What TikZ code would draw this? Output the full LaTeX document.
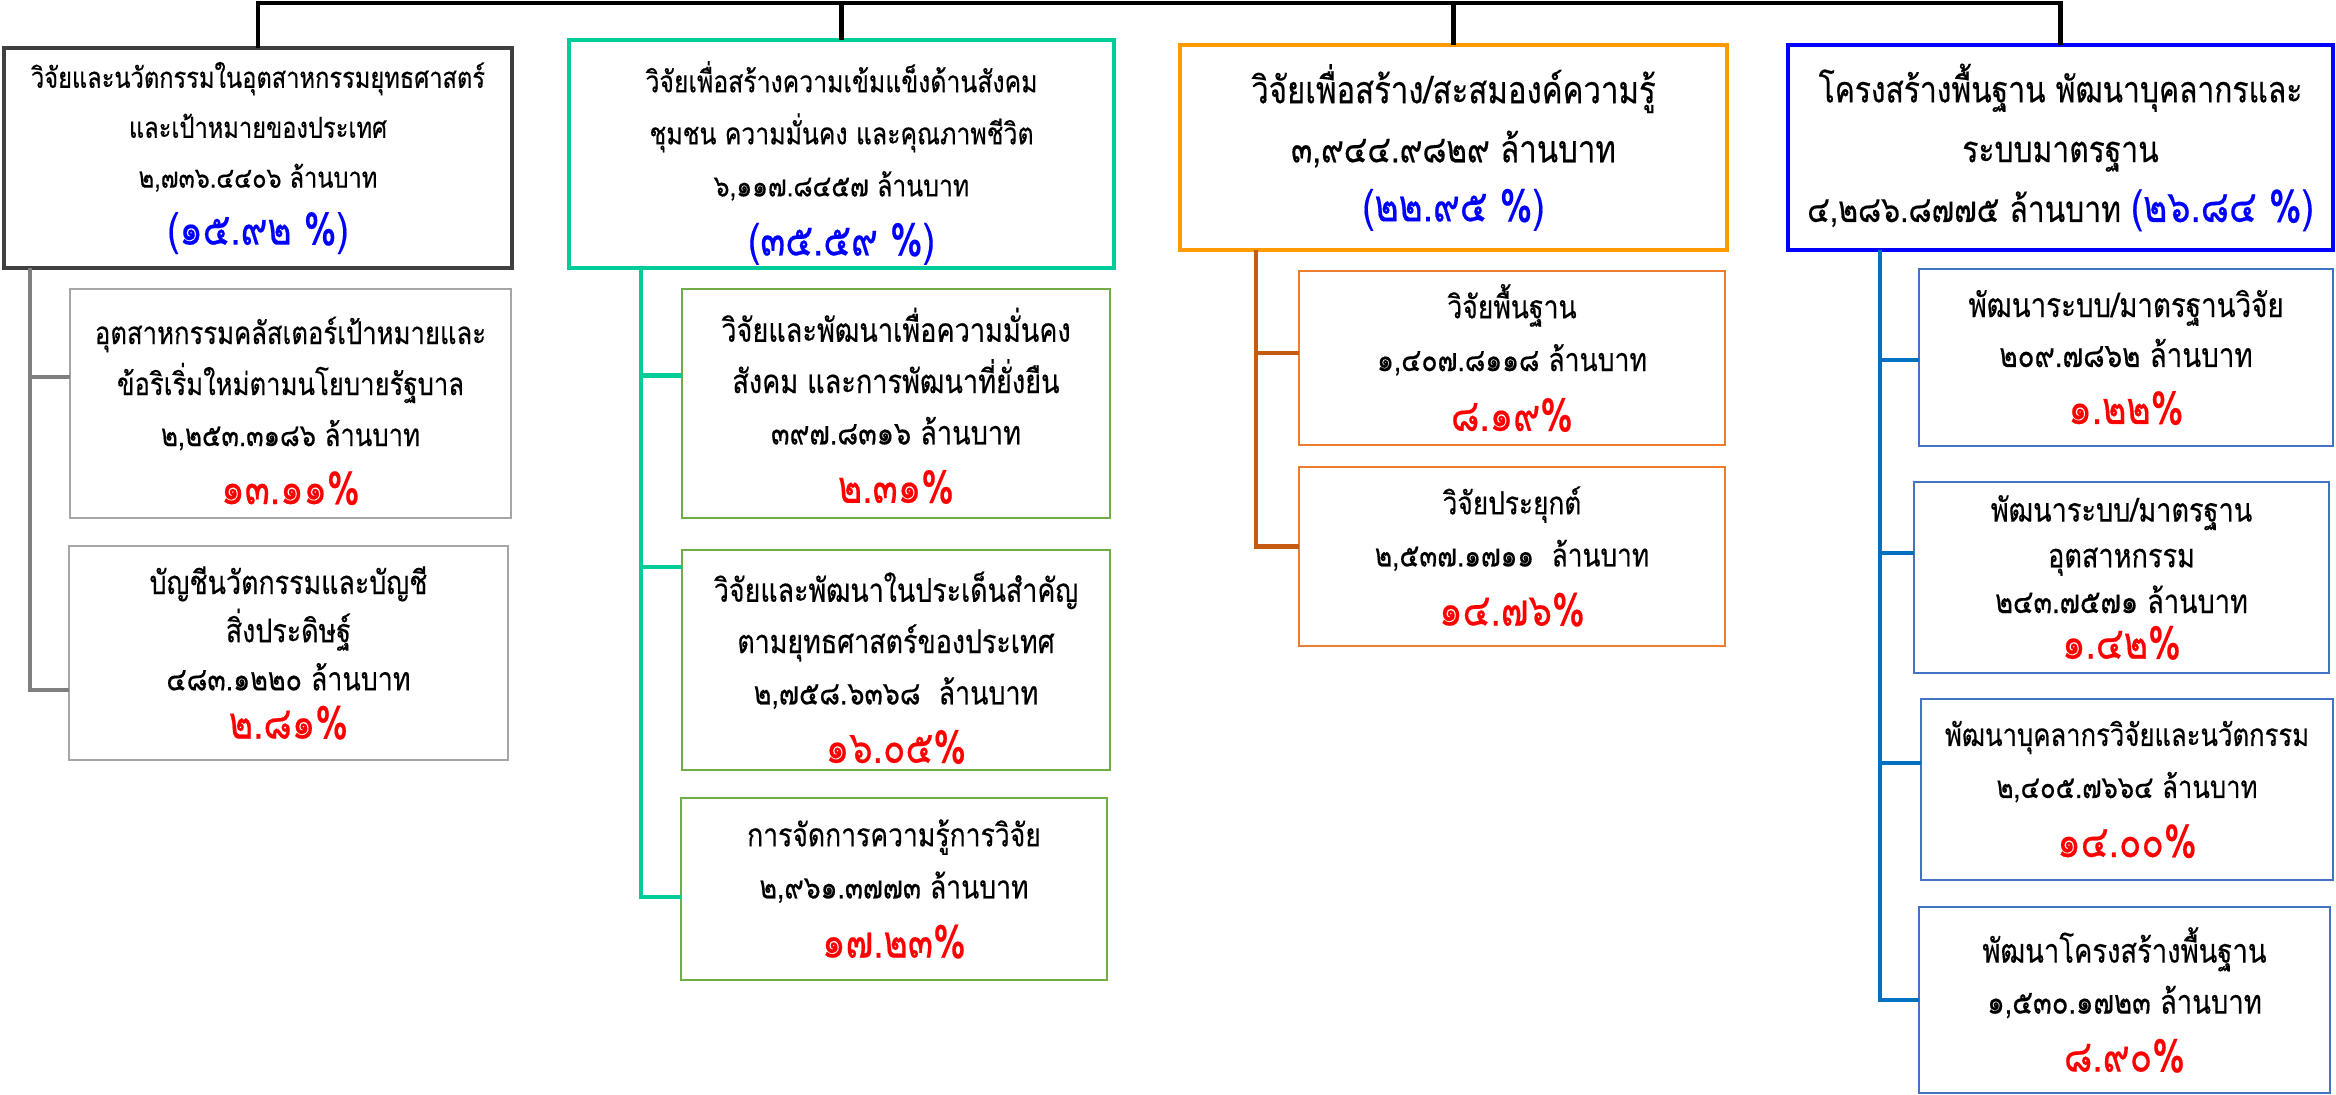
\documentclass[tikz,border=0pt]{standalone}
\usepackage{fontspec}
\newfontfamily\thaifont[Script=Thai,FakeStretch=0.82,FakeBold=0.4]{Loma}
\definecolor{boxgray}{RGB}{64,64,64}
\definecolor{subgray}{RGB}{166,166,166}
\definecolor{linegray}{RGB}{127,127,127}
\definecolor{socgreen}{RGB}{0,204,153}
\definecolor{subgreen}{RGB}{112,173,71}
\definecolor{knoworange}{RGB}{255,153,0}
\definecolor{knowline}{RGB}{197,90,17}
\definecolor{knowsub}{RGB}{237,125,49}
\definecolor{infblue}{RGB}{0,0,255}
\definecolor{infline}{RGB}{0,112,192}
\definecolor{infsub}{RGB}{68,114,196}
\newcommand\redpct[1]{{\fontsize{12.8}{15}\selectfont\color{red}#1\%}}
\newcommand\bluepct[1]{{\fontsize{12.7}{15}\selectfont\color{infblue}(#1 \%)}}
\usetikzlibrary{positioning}

\begin{document}
\begin{tikzpicture}[x=0.01cm,y=-0.01cm,
    every node/.style={align=center,inner sep=0pt,outer sep=0pt},
    fs/.style 2 args={font=\thaifont\fontsize{#1}{#2}\selectfont},
    mainbox/.style={draw,line width=1.25pt},
    subbox/.style={draw,line width=0.6pt},
    trunk/.style={line width=1.25pt},
    branch/.style={line width=1.2pt}]

  \useasboundingbox (0,0) rectangle (2336,1095);

  \node[mainbox,draw=boxgray,fs={8.2}{14.2},minimum width=5.08cm,minimum height=2.2cm] (m1) at (258,158)
    {วิจัยและนวัตกรรมในอุตสาหกรรมยุทธศาสตร์\\และเป้าหมายของประเทศ\\๒,๗๓๖.๔๔๐๖ ล้านบาท\\[2pt]\bluepct{๑๕.๙๒}};
  \node[mainbox,draw=socgreen,fs={8.6}{14.8},minimum width=5.45cm,minimum height=2.28cm] (m2) at (841.5,154)
    {\rule{0pt}{14pt}วิจัยเพื่อสร้างความเข้มแข็งด้านสังคม\\ชุมชน ความมั่นคง และคุณภาพชีวิต\\๖,๑๑๗.๘๔๕๗ ล้านบาท\\[2pt]\bluepct{๓๕.๕๙}};
  \node[mainbox,draw=knoworange,fs={10.8}{16.8},minimum width=5.47cm,minimum height=2.05cm] (m3) at (1453.5,147.5)
    {วิจัยเพื่อสร้าง/สะสมองค์ความรู้\\๓,๙๔๔.๙๘๒๙ ล้านบาท\\\bluepct{๒๒.๙๕}};
  \node[mainbox,draw=infblue,fs={10.4}{17},minimum width=5.45cm,minimum height=2.05cm] (m4) at (2060.5,147.5)
    {โครงสร้างพื้นฐาน พัฒนาบุคลากรและ\\ระบบมาตรฐาน\\๔,๒๘๖.๘๗๗๕ ล้านบาท \bluepct{๒๖.๘๔}};

  \node[subbox,draw=subgray,fs={8.9}{14.5},minimum width=4.41cm,minimum height=2.29cm] (s11) at (290.5,403.5)
    {\rule{0pt}{12pt}อุตสาหกรรมคลัสเตอร์เป้าหมายและ\\ข้อริเริ่มใหม่ตามนโยบายรัฐบาล\\๒,๒๕๓.๓๑๘๖ ล้านบาท\\[2pt]\redpct{๑๓.๑๑}};
  \node[subbox,draw=subgray,fs={9.3}{13.7},minimum width=4.39cm,minimum height=2.14cm] (s12) at (288.5,653)
    {บัญชีนวัตกรรมและบัญชี\\สิ่งประดิษฐ์\\๔๘๓.๑๒๒๐ ล้านบาท\\\redpct{๒.๘๑}};

  \node[subbox,draw=subgreen,fs={9.4}{14.6},minimum width=4.28cm,minimum height=2.29cm] (s21) at (896,403.5)
    {\rule{0pt}{11pt}วิจัยและพัฒนาเพื่อความมั่นคง\\สังคม และการพัฒนาที่ยั่งยืน\\๓๙๗.๘๓๑๖ ล้านบาท\\[2pt]\redpct{๒.๓๑}};
  \node[subbox,draw=subgreen,fs={9.3}{14.6},minimum width=4.28cm,minimum height=2.2cm] (s22) at (896,660)
    {\rule{0pt}{13pt}วิจัยและพัฒนาในประเด็นสำคัญ\\ตามยุทธศาสตร์ของประเทศ\\๒,๗๕๘.๖๓๖๘\ \ ล้านบาท\\[2pt]\redpct{๑๖.๐๕}};
  \node[subbox,draw=subgreen,fs={9.2}{14.8},minimum width=4.26cm,minimum height=1.82cm] (s23) at (894,889)
    {การจัดการความรู้การวิจัย\\๒,๙๖๑.๓๗๗๓ ล้านบาท\\[2pt]\redpct{๑๗.๒๓}};

  \node[subbox,draw=knowsub,fs={9.2}{15},minimum width=4.26cm,minimum height=1.74cm] (s31) at (1512,358)
    {วิจัยพื้นฐาน\\๑,๔๐๗.๘๑๑๘ ล้านบาท\\[2pt]\redpct{๘.๑๙}};
  \node[subbox,draw=knowsub,fs={9.1}{14.8},minimum width=4.26cm,minimum height=1.79cm] (s32) at (1512,556.5)
    {วิจัยประยุกต์\\๒,๕๓๗.๑๗๑๑\ \ ล้านบาท\\[2pt]\redpct{๑๔.๗๖}};

  \node[subbox,draw=infsub,fs={9.6}{14.2},minimum width=4.14cm,minimum height=1.77cm] (s41) at (2126,357.5)
    {พัฒนาระบบ/มาตรฐานวิจัย\\๒๐๙.๗๘๖๒ ล้านบาท\\[2pt]\redpct{๑.๒๒}};
  \node[subbox,draw=infsub,fs={9.4}{13},minimum width=4.15cm,minimum height=1.91cm] (s42) at (2121.5,577.5)
    {พัฒนาระบบ/มาตรฐาน\\อุตสาหกรรม\\๒๔๓.๗๕๗๑ ล้านบาท\\\redpct{๑.๔๒}};
  \node[subbox,draw=infsub,fs={8.9}{14.8},minimum width=4.12cm,minimum height=1.81cm] (s43) at (2127,789.5)
    {พัฒนาบุคลากรวิจัยและนวัตกรรม\\๒,๔๐๕.๗๖๖๔ ล้านบาท\\[2pt]\redpct{๑๔.๐๐}};
  \node[subbox,draw=infsub,fs={9.5}{14.5},minimum width=4.11cm,minimum height=1.86cm] (s44) at (2124.5,1000)
    {พัฒนาโครงสร้างพื้นฐาน\\๑,๕๓๐.๑๗๒๓ ล้านบาท\\[2pt]\redpct{๘.๙๐}};

  \coordinate (top) at (1156,3);
  \draw[trunk] (m1.north) |- (top) -| (m4.north);
  \draw[trunk] (m2.north) -- (m2.north |- top);
  \draw[trunk] (m3.north) -- (m3.north |- top);

  \coordinate (g1) at ([xshift=2.6mm]m1.south west);
  \coordinate (g2) at ([xshift=7.2mm]m2.south west);
  \coordinate (g3) at ([xshift=7.6mm]m3.south west);
  \coordinate (g4) at ([xshift=9.2mm]m4.south west);
  \foreach \c/\d in {s11/2.65mm,s12/-3.7mm}
    \draw[branch,linegray] (g1) |- ([yshift=\d]\c.west);
  \foreach \c/\d in {s21/2.8mm,s22/9.3mm,s23/-0.8mm}
    \draw[branch,socgreen] (g2) |- ([yshift=\d]\c.west);
  \foreach \c/\d in {s31/0.5mm,s32/1mm}
    \draw[branch,knowline] (g3) |- ([yshift=\d]\c.west);
  \foreach \c/\d in {s41/-0.25mm,s42/2.45mm,s43/2.65mm,s44/0mm}
    \draw[branch,infline] (g4) |- ([yshift=\d]\c.west);
\end{tikzpicture}
\end{document}
